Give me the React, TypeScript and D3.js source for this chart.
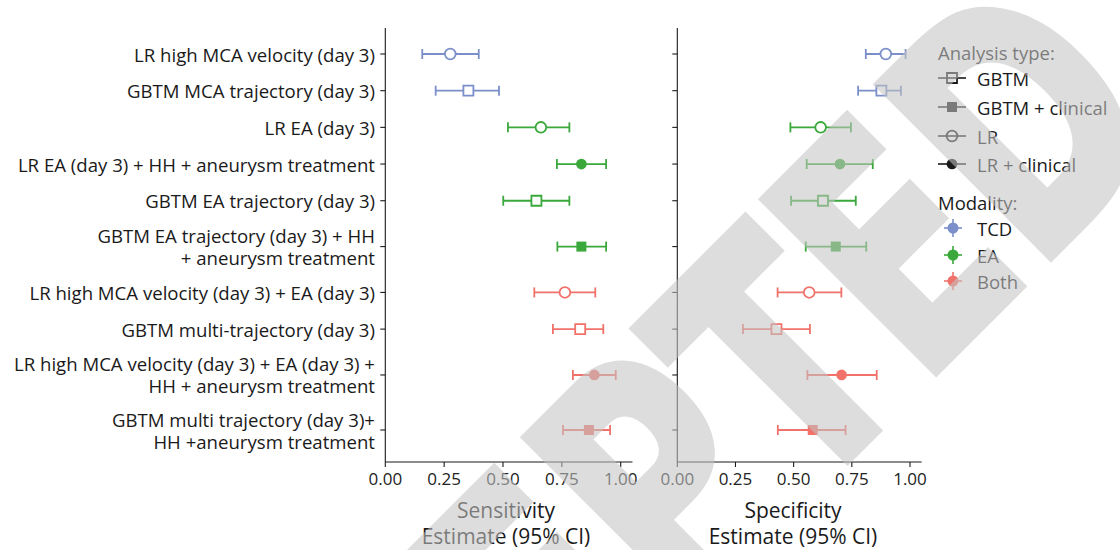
import React from "react";
import * as d3 from "d3";

// ---------- data ----------
const labels = [
  "LR high MCA velocity (day 3)",
  "GBTM MCA trajectory (day 3)",
  "LR EA (day 3)",
  "LR EA (day 3) + HH + aneurysm treatment",
  "GBTM EA trajectory (day 3)",
  "GBTM EA trajectory (day 3) + HH\n+ aneurysm treatment",
  "LR high MCA velocity (day 3) + EA (day 3)",
  "GBTM multi-trajectory (day 3)",
  "LR high MCA velocity (day 3) + EA (day 3) +\nHH + aneurysm treatment",
  "GBTM multi trajectory (day 3)+\nHH +aneurysm treatment",
];
const analysisType = ["LR", "GBTM", "LR", "LR + clinical", "GBTM", "GBTM + clinical", "LR", "GBTM", "LR + clinical", "GBTM + clinical"];
const modality = ["TCD", "TCD", "EA", "EA", "EA", "EA", "Both", "Both", "Both", "Both"];

const sensLo = [0.157, 0.214, 0.521, 0.729, 0.501, 0.731, 0.633, 0.712, 0.797, 0.755];
const sensEst = [0.276, 0.353, 0.661, 0.833, 0.642, 0.833, 0.763, 0.828, 0.888, 0.865];
const sensHi = [0.397, 0.483, 0.782, 0.938, 0.782, 0.938, 0.892, 0.926, 0.979, 0.955];

const specLo = [0.81, 0.777, 0.486, 0.556, 0.489, 0.552, 0.431, 0.282, 0.559, 0.432];
const specEst = [0.896, 0.877, 0.616, 0.699, 0.626, 0.681, 0.567, 0.426, 0.706, 0.582];
const specHi = [0.981, 0.961, 0.746, 0.84, 0.767, 0.812, 0.705, 0.57, 0.857, 0.723];

const xTicks = [0, 0.25, 0.5, 0.75, 1];
const analysisTypes = ["GBTM", "GBTM + clinical", "LR", "LR + clinical"];
const modalities = ["TCD", "EA", "Both"];
const modalityColors = ["#7b8fca", "#3aa83a", "#f0726a"];
const watermarkText = "ACCEPTED";

// ---------- helpers ----------
const W = 1120;
const H = 550;
const FONT = "'Open Sans', 'Noto Sans', sans-serif";
const INK = "#1a1a1a";

const colorScale = d3.scaleOrdinal<string, string>().domain(modalities).range(modalityColors);

// row positions: two-line labels take a bit more room
const lineCounts = labels.map((l) => l.split("\n").length);
const rowWeights = lineCounts.map((n) => (n > 1 ? 1.5 : 1));
const cum: number[] = [];
{
  let acc = 0;
  rowWeights.forEach((w, i) => {
    if (i > 0) acc += (rowWeights[i - 1] + w) / 2;
    cum.push(acc);
  });
}
const yScale = d3.scaleLinear().domain([0, cum[cum.length - 1]]).range([54, 430]);
const rowY = (i: number) => yScale(cum[i]);

const panelTop = 28;
const panelBottom = 462;

function Marker({ x, y, type, color, legend }: { x: number; y: number; type: string; color: string; legend?: boolean }) {
  const sq = type.startsWith("GBTM");
  const d = d3.symbol().type(sq ? d3.symbolSquare : d3.symbolCircle).size(sq ? 100 : 90)() as string;
  const filled = type.includes("clinical");
  return (
    <path
      d={d}
      transform={`translate(${x},${y})`}
      fill={filled ? color : legend ? "none" : "#ffffff"}
      stroke={color}
      strokeWidth={filled ? 0 : 1.8}
    />
  );
}

function Panel({
  x0,
  x1,
  lo,
  est,
  hi,
  title,
  titleX,
}: {
  x0: number;
  x1: number;
  lo: number[];
  est: number[];
  hi: number[];
  title: string;
  titleX: number;
}) {
  const x = d3.scaleLinear().domain([0, 1]).range([x0, x1]);
  const axisEnd = x(1.05);
  return (
    <g>
      <line x1={x0} x2={x0} y1={panelTop} y2={panelBottom} stroke={INK} strokeWidth={1.1} />
      <line x1={x0} x2={axisEnd} y1={panelBottom} y2={panelBottom} stroke={INK} strokeWidth={1.1} />
      {labels.map((_, i) => (
        <line key={"yt" + i} x1={x0 - 5} x2={x0} y1={rowY(i)} y2={rowY(i)} stroke={INK} strokeWidth={1.1} />
      ))}
      {xTicks.map((t) => (
        <g key={"xt" + t}>
          <line x1={x(t)} x2={x(t)} y1={panelBottom} y2={panelBottom + 5} stroke={INK} strokeWidth={1.1} />
          <text x={x(t)} y={panelBottom + 16} textAnchor="middle" dominantBaseline="central" fontFamily={FONT} fontSize={17} fill="#222">
            {d3.format(".2f")(t)}
          </text>
        </g>
      ))}
      {labels.map((_, i) => {
        const y = rowY(i);
        const c = colorScale(modality[i]);
        return (
          <g key={"pt" + i}>
            <line x1={x(lo[i])} x2={x(hi[i])} y1={y} y2={y} stroke={c} strokeWidth={1.8} />
            <line x1={x(lo[i])} x2={x(lo[i])} y1={y - 5} y2={y + 5} stroke={c} strokeWidth={1.8} />
            <line x1={x(hi[i])} x2={x(hi[i])} y1={y - 5} y2={y + 5} stroke={c} strokeWidth={1.8} />
            <Marker x={x(est[i])} y={y} type={analysisType[i]} color={c} />
          </g>
        );
      })}
      <text x={titleX} y={510} textAnchor="middle" dominantBaseline="central" fontFamily={FONT} fontSize={21} fill={INK}>
        {title}
      </text>
      <text x={titleX} y={536} textAnchor="middle" dominantBaseline="central" fontFamily={FONT} fontSize={21} fill={INK}>
        Estimate (95% CI)
      </text>
    </g>
  );
}

export default function App() {
  const legendX = 938;
  const atY = [78, 107, 136, 164];
  const modY = [228, 255, 281];
  const LF = 18.5;
  return (
    <svg
      width={W}
      height={H}
      viewBox={`0 0 ${W} ${H}`}
      style={{ position: "absolute", left: 0, top: 0, background: "#fff" }}
    >
      <rect width={W} height={H} fill="#fff" />
      {labels.map((l, i) => {
        const lines = l.split("\n");
        return (
          <text key={"yl" + i} textAnchor="end" fontFamily={FONT} fontSize={18.6} fill={INK}>
            {lines.map((s, k) => (
              <tspan key={k} x={375} y={rowY(i) + (k - (lines.length - 1) / 2) * 22} dominantBaseline="central">
                {s}
              </tspan>
            ))}
          </text>
        );
      })}
      <Panel x0={385.3} x1={620.7} lo={sensLo} est={sensEst} hi={sensHi} title="Sensitivity" titleX={506} />
      <Panel x0={677.3} x1={910} lo={specLo} est={specEst} hi={specHi} title="Specificity" titleX={793} />

      <text x={legendX} y={52} dominantBaseline="central" fontFamily={FONT} fontSize={LF} fill={INK}>
        Analysis type:
      </text>
      {analysisTypes.map((t, i) => (
        <g key={"at" + t}>
          <line x1={legendX} x2={legendX + 28} y1={atY[i]} y2={atY[i]} stroke={INK} strokeWidth={1.6} />
          <Marker x={legendX + 14} y={atY[i]} type={t} color={INK} legend />
          <text x={977} y={atY[i]} dominantBaseline="central" fontFamily={FONT} fontSize={LF} fill={INK}>
            {t}
          </text>
        </g>
      ))}
      <text x={legendX} y={202} dominantBaseline="central" fontFamily={FONT} fontSize={LF} fill={INK}>
        Modality:
      </text>
      {modalities.map((m, i) => (
        <g key={"md" + m}>
          <line x1={legendX + 6} x2={legendX + 24} y1={modY[i]} y2={modY[i]} stroke={colorScale(m)} strokeWidth={1.6} />
          <line x1={legendX + 15} x2={legendX + 15} y1={modY[i] - 9} y2={modY[i] + 9} stroke={colorScale(m)} strokeWidth={1.6} />
          <circle cx={legendX + 15} cy={modY[i]} r={5.5} fill={colorScale(m)} />
          <text x={977} y={modY[i]} dominantBaseline="central" fontFamily={FONT} fontSize={LF} fill={INK}>
            {m}
          </text>
        </g>
      ))}

      {/* watermark */}
      <g opacity={0.57}>
        <text
          transform="translate(190,1118) rotate(-45) scale(0.71,1)"
          fontFamily="'DejaVu Sans', sans-serif"
          fontWeight="bold"
          fontSize={335}
          fill="#c4c4c4"
          stroke="#c4c4c4"
          strokeWidth={8}
          strokeLinejoin="miter"
        >
          {watermarkText}
        </text>
      </g>
    </svg>
  );
}
